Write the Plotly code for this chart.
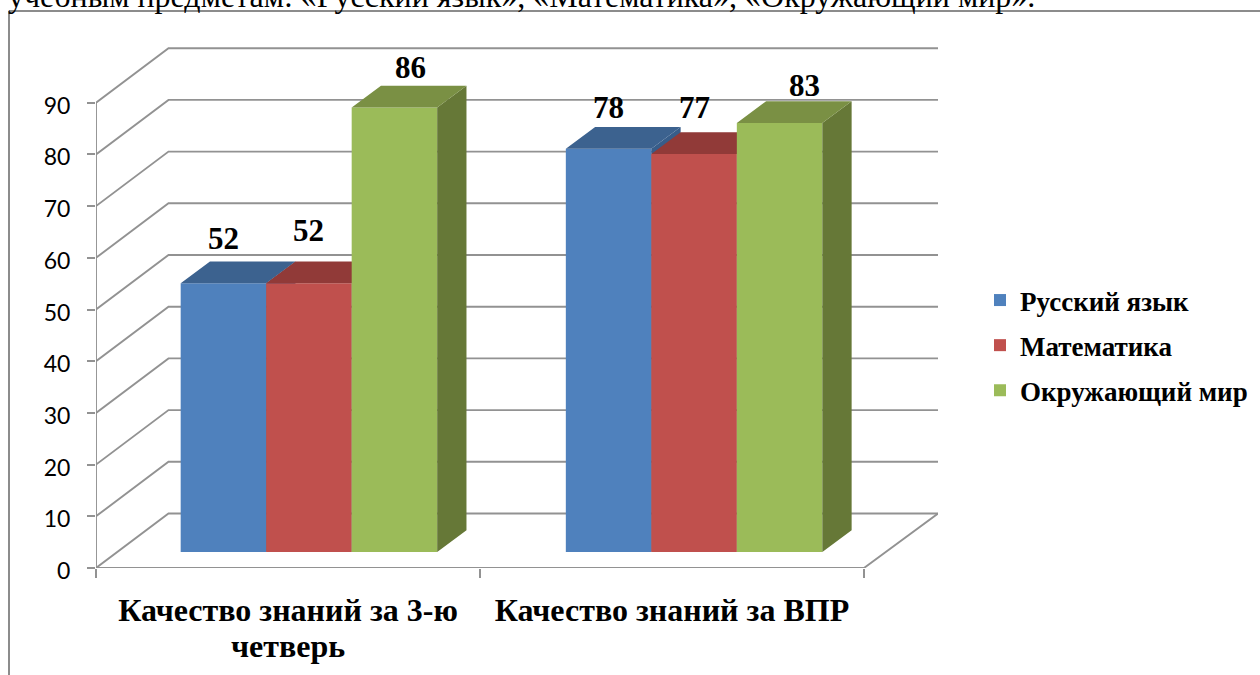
import plotly.graph_objects as go

# ---- data ----
categories = ["Качество знаний за 3-ю<br>четверь", "Качество знаний за ВПР"]
series_names = ["Русский язык", "Математика", "Окружающий мир"]
russian = [52, 78]
maths = [52, 77]
world = [86, 83]
y_ticks = [0, 10, 20, 30, 40, 50, 60, 70, 80, 90]
header_text = "учебным предметам: «Русский язык», «Математика», «Окружающий мир»."

# ---- styles ----
front_colors = ["#4F81BD", "#C0504D", "#9BBB59"]
top_colors = ["#3C628F", "#913A38", "#7A9044"]
side_colors = ["#375D8A", "#8A3634", "#667837"]
GRID = "#929292"
SERIF = "Liberation Serif"

# pixel frame of the plotting area
L, R, T, B = 96, 322, 47, 107
W, H = 1260, 675
PX_X = 384.0           # px per category
PX_Y = 5.17            # px per value unit
x_max = (W - R - L) / PX_X
y_max = (H - T - B) / PX_Y
wall_dx, wall_dy = 72.5 / PX_X, 54.5 / PX_Y     # depth of the floor
bar_dx, bar_dy = 29.3 / PX_X, 21.7 / PX_Y       # depth of a bar
front_lift = 16 / PX_Y                          # bars stand forward on the floor
bar_w = 85.5 / PX_X
group_centres = [0.5 + 0.0545, 1.5 + 0.0575]

fig = go.Figure()

# walls and floor
wx, wy = [], []
for v in y_ticks:
    wx += [0, wall_dx, x_max, None]
    wy += [v, v + wall_dy, v + wall_dy, None]
wx += [0, 0, None, 0, 2, x_max]
wy += [y_ticks[0], y_ticks[-1], None, 0, 0, wall_dy]
fig.add_trace(go.Scatter(x=wx, y=wy, mode="lines", line=dict(color=GRID, width=1.9),
                         showlegend=False, hoverinfo="skip"))

# bars, one overlay per series so each series paints over the previous one
all_values = [russian, maths, world]
for s, (name, vals) in enumerate(zip(series_names, all_values)):
    ya = f"y{s + 2}"
    xs = [c + (s - 1) * bar_w for c in group_centres]
    fig.add_trace(go.Bar(x=xs, y=vals, width=bar_w, name=name, yaxis=ya,
                         legendgroup=name,
                         marker=dict(color=front_colors[s], line=dict(width=0))))
    tx, ty, sx, sy = [], [], [], []
    for cx, v in zip(xs, vals):
        x0, x1 = cx - bar_w / 2, cx + bar_w / 2
        tx += [x0, x1, x1 + bar_dx, x0 + bar_dx, x0, None]
        ty += [v, v, v + bar_dy, v + bar_dy, v, None]
        sx += [x1, x1 + bar_dx, x1 + bar_dx, x1, x1, None]
        sy += [0, bar_dy, v + bar_dy, v, 0, None]
    fig.add_trace(go.Scatter(x=sx, y=sy, yaxis=ya, mode="lines", fill="toself",
                             fillcolor=side_colors[s], line=dict(width=0),
                             showlegend=False, hoverinfo="skip"))
    fig.add_trace(go.Scatter(x=tx, y=ty, yaxis=ya, mode="lines", fill="toself",
                             fillcolor=top_colors[s], line=dict(width=0),
                             showlegend=False, hoverinfo="skip"))

# data labels: pixel nudges [series][group]
label_dx = [[0, 0], [0, 0], [16, 25]]
label_dy = [[45, 41], [53, 46], [40, 37]]
annotations = []
for s, vals in enumerate(all_values):
    for i, v in enumerate(vals):
        annotations.append(dict(
            x=group_centres[i] + (s - 1) * bar_w, y=v, xref="x", yref=f"y{s + 2}",
            text=str(v), showarrow=False, xanchor="center", yanchor="middle",
            xshift=label_dx[s][i], yshift=label_dy[s][i],
            font=dict(family=SERIF, size=31, color="#000000", weight="bold")))

PW, PH = W - L - R, H - T - B
annotations.append(dict(
    text=header_text, xref="paper", yref="paper", showarrow=False,
    x=(6 - L) / PW, y=(H - B - 16) / PH, xanchor="left", yanchor="bottom",
    font=dict(family=SERIF, size=32, color="#000000")))

axis_overlay = dict(range=[-front_lift, y_max - front_lift], overlaying="y", visible=False,
                    fixedrange=True)

# the tick font sets the line pitch of the two-line label, the span sets the glyph size
tick_text = ["<br>".join('<span style="font-size:32px">' + p + "</span>" for p in c.split("<br>"))
             for c in categories]

fig.update_layout(
    width=W, height=H, autosize=False,
    margin=dict(l=L, r=R, t=T, b=B, pad=0, autoexpand=False),
    paper_bgcolor="white", plot_bgcolor="white",
    barmode="overlay",
    annotations=annotations,
    xaxis=dict(range=[0, x_max], showgrid=False, zeroline=False, showline=False,
               tickvals=[0.5, 1.5], ticktext=tick_text, ticks="outside", ticklen=9,
               tickcolor="rgba(0,0,0,0)", ticklabelstandoff=11,
               minor=dict(tickvals=[0, 1, 2], ticks="outside", ticklen=9, tickcolor=GRID, tickwidth=1.9),
               tickfont=dict(family=SERIF, size=27, color="#000000", weight="bold")),
    yaxis=dict(range=[0, y_max], showgrid=False, zeroline=False, showline=False,
               tickvals=y_ticks, ticks="outside", ticklen=8, tickcolor=GRID, tickwidth=1.9,
               ticklabelstandoff=12, ticklabelshift=3,
               tickfont=dict(family="Lato", size=23, color="#000000")),
    yaxis2=axis_overlay, yaxis3=axis_overlay, yaxis4=axis_overlay,
    legend=dict(x=(980 - L) / PW, y=(H - B - 276) / PH, xanchor="left", yanchor="top",
                tracegroupgap=7, traceorder="grouped", bgcolor="rgba(0,0,0,0)",
                font=dict(family=SERIF, size=27, color="#000000", weight="bold")),
    shapes=[dict(type="line", xref="paper", yref="paper",
                 x0=(9 - L) / PW, x1=(9 - L) / PW, y0=-B / PH, y1=(H - B - 11) / PH,
                 line=dict(color="#8C8C8C", width=2)),
            dict(type="line", xref="paper", yref="paper",
                 x0=(9 - L) / PW, x1=(W - L) / PW, y0=(H - B - 11) / PH, y1=(H - B - 11) / PH,
                 line=dict(color="#8C8C8C", width=2))],
)

fig.write_html("out.html", config={"displayModeBar": False},
               post_script="document.body.style.margin='0';")
